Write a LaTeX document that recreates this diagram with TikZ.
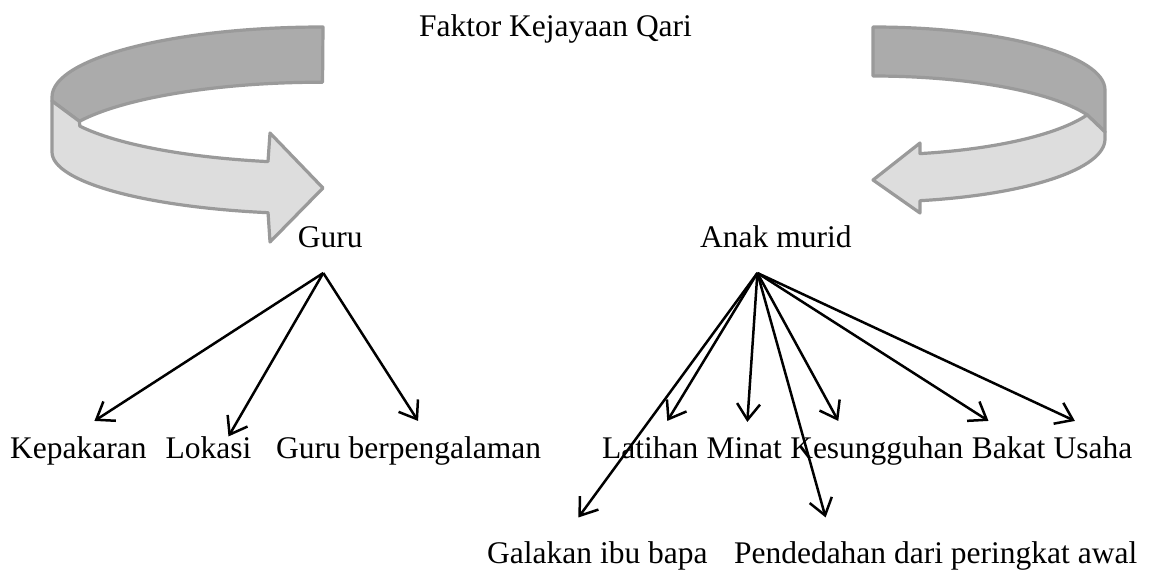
\documentclass[tikz,border=0pt]{standalone}
\usepackage{fontspec}
\setmainfont{Liberation Serif}
\usepackage{tikz}
\usetikzlibrary{arrows.meta, positioning}
\definecolor{bandgrey}{HTML}{ABABAB}
\definecolor{bandlight}{HTML}{DDDDDD}
\definecolor{bandedge}{HTML}{9A9A9A}

\begin{document}
\begin{tikzpicture}[x=1pt, y=-1pt,
  font=\fontsize{31.5}{36}\selectfont,
  heading/.style={inner sep=0pt, anchor=base},
  leaf/.style={inner xsep=0pt, inner ysep=15pt},
  arrow/.style={-{Straight Barb[length=16pt, width=23pt]}, line width=2.5pt},
  bandback/.style={fill=bandgrey, draw=bandedge, line width=3.2pt, line join=round},
  bandfront/.style={fill=bandlight, draw=bandedge, line width=3.2pt, line join=round}
]
  \useasboundingbox (0,0) rectangle (1153,572);

  \draw[bandback] (323,27) arc[start angle=270, end angle=180, x radius=271, y radius=70] -- (52,101) -- (79.4,121.3) arc[start angle=206.2, end angle=270, x radius=271, y radius=70] -- cycle;
  \draw[bandfront] (52,101) -- (52,152) arc[start angle=180, end angle=101.7, x radius=271, y radius=62] -- (270,242) -- (323,188) -- (270,133) -- (268,161.6) arc[start angle=101.7, end angle=153.8, x radius=271, y radius=66] -- (79.4,121.3) -- cycle;

  \draw[bandback] (873,27) arc[start angle=270, end angle=360, x radius=232, y radius=63] -- (1105,132) -- (1087,114.7) arc[start angle=337.3, end angle=270, x radius=232, y radius=63] -- cycle;
  \draw[bandfront] (1087,114.7) -- (1105,132) -- (1105,139) arc[start angle=0, end angle=78.3, x radius=232, y radius=63] -- (920,213) -- (873,180) -- (920,143) -- (920,153.6) arc[start angle=78.3, end angle=22.7, x radius=232, y radius=65] -- cycle;

  \node[heading] (title) at (555.5,37) {Faktor Kejayaan Qari};
  \node[heading] (guru) at (330.3,247) {Guru};
  \node[heading, anchor=base west] (anak) at (700,247) {Anak murid};

  \coordinate (guruhub) at ([xshift=-7pt, yshift=-26pt]guru.base);
  \coordinate (anakhub) at ([xshift=-18.5pt, yshift=-26pt]anak.base);

  \node[leaf, anchor=base west] (kep) at (10,458) {Kepakaran};
  \node[leaf, base right=18.6pt of kep] (lok) {Lokasi};
  \node[leaf, base right=24.3pt of lok] (gb) {Guru berpengalaman};
  \node[leaf, anchor=base west] (lat) at (602,458) {Latihan};
  \node[leaf, base right=7.9pt of lat] (min) {Minat};
  \node[leaf, base right=7.9pt of min] (kes) {Kesungguhan};
  \node[leaf, base right=7.9pt of kes] (bak) {Bakat};
  \node[leaf, base right=7.9pt of bak] (usa) {Usaha};
  \node[leaf, anchor=base west] (gal) at (487,563) {Galakan ibu bapa};
  \node[leaf, base right=26pt of gal] (pen) {Pendedahan dari peringkat awal};

  \draw[arrow] (guruhub) -- ([xshift=16pt]kep.north);
  \draw[arrow] (guruhub) -- ([xshift=20pt, yshift=-15.5pt]lok.north);
  \draw[arrow] (guruhub) -- ([xshift=9.5pt]gb.north);
  \draw[arrow] (anakhub) -- ([xshift=-19pt, yshift=8.5pt]gal.north);
  \draw[arrow] (anakhub) -- ([xshift=17pt]lat.north);
  \draw[arrow] (anakhub) -- ([xshift=3pt]min.north);
  \draw[arrow] (anakhub) -- ([xshift=-110pt, yshift=8.5pt]pen.north);
  \draw[arrow] (anakhub) -- ([xshift=-38.6pt]kes.north);
  \draw[arrow] (anakhub) -- ([xshift=-20pt]bak.north);
  \draw[arrow] (anakhub) -- ([xshift=-18pt]usa.north);
\end{tikzpicture}
\end{document}
